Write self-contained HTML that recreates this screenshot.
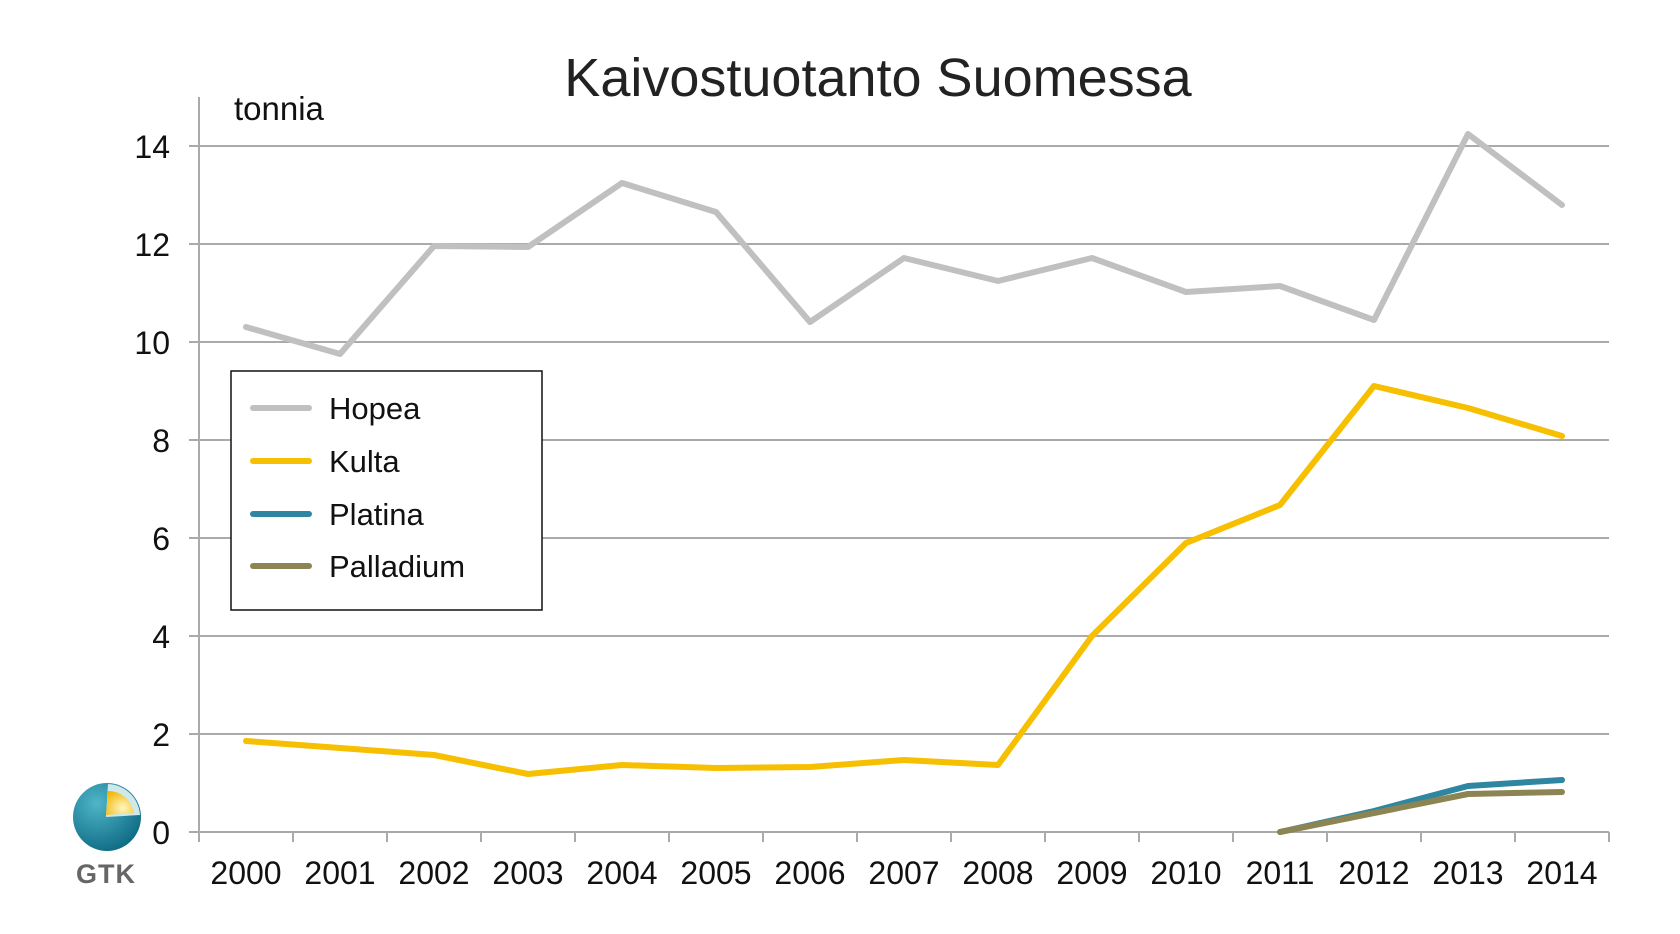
<!DOCTYPE html>
<html><head><style>body{margin:0;background:#fff}</style></head><body>
<svg width="1680" height="929" xmlns="http://www.w3.org/2000/svg" font-family="Liberation Sans, Arial, sans-serif">
<text x="878" y="96" font-size="54" text-anchor="middle" fill="#222">Kaivostuotanto Suomessa</text>
<text x="234" y="120" font-size="33" fill="#111">tonnia</text>
<g stroke="#aaa" stroke-width="2">
<line x1="199" y1="97" x2="199" y2="842"/>
<line x1="189" y1="832" x2="1609" y2="832"/>
<line x1="189" y1="734" x2="1609" y2="734"/>
<line x1="189" y1="636" x2="1609" y2="636"/>
<line x1="189" y1="538" x2="1609" y2="538"/>
<line x1="189" y1="440" x2="1609" y2="440"/>
<line x1="189" y1="342" x2="1609" y2="342"/>
<line x1="189" y1="244" x2="1609" y2="244"/>
<line x1="189" y1="146" x2="1609" y2="146"/>
<path d="M293 832v10M387 832v10M481 832v10M575 832v10M669 832v10M763 832v10M857 832v10M951 832v10M1045 832v10M1139 832v10M1233 832v10M1327 832v10M1421 832v10M1515 832v10M1609 832v10"/>
</g>
<g font-size="32" text-anchor="end" fill="#111">
<text x="170" y="844">0</text><text x="170" y="746">2</text><text x="170" y="648">4</text><text x="170" y="550">6</text><text x="170" y="452">8</text><text x="170" y="354">10</text><text x="170" y="256">12</text><text x="170" y="158">14</text>
</g>
<g font-size="32" text-anchor="middle" fill="#111">
<text x="246" y="884">2000</text><text x="340" y="884">2001</text><text x="434" y="884">2002</text><text x="528" y="884">2003</text><text x="622" y="884">2004</text><text x="716" y="884">2005</text><text x="810" y="884">2006</text><text x="904" y="884">2007</text><text x="998" y="884">2008</text><text x="1092" y="884">2009</text><text x="1186" y="884">2010</text><text x="1280" y="884">2011</text><text x="1374" y="884">2012</text><text x="1468" y="884">2013</text><text x="1562" y="884">2014</text>
</g>
<g fill="none" stroke-width="6" stroke-linejoin="round" stroke-linecap="round">
<polyline stroke="#c0c0c0" points="246,327 340,354 434,246 528,247 622,183 716,212 810,322 904,258 998,281 1092,258 1186,292 1280,286 1374,320 1468,134 1562,205"/>
<polyline stroke="#f6bf00" points="246,741 340,748 434,755 528,774 622,765 716,768 810,767 904,760 998,765 1092,636 1186,543 1280,505 1374,386 1468,408 1562,436"/>
<polyline stroke="#2e86a0" points="1280,832 1374,811 1468,786 1562,780"/>
<polyline stroke="#8c8553" points="1280,832 1374,813 1468,794 1562,792"/>
</g>
<rect x="231" y="371" width="311" height="239" fill="#fff" stroke="#111" stroke-width="1.5"/>
<g stroke-width="6" stroke-linecap="round">
<line x1="253" y1="408" x2="309" y2="408" stroke="#c0c0c0"/>
<line x1="253" y1="461" x2="309" y2="461" stroke="#f6bf00"/>
<line x1="253" y1="514" x2="309" y2="514" stroke="#2e86a0"/>
<line x1="253" y1="566" x2="309" y2="566" stroke="#8c8553"/>
</g>
<g font-size="31" fill="#111">
<text x="329" y="419">Hopea</text><text x="329" y="472">Kulta</text><text x="329" y="525">Platina</text><text x="329" y="577">Palladium</text>
</g>
<defs><radialGradient id="g" cx="0.35" cy="0.3" r="0.8"><stop offset="0" stop-color="#4fb5c8"/><stop offset="1" stop-color="#0a6680"/></radialGradient>
<radialGradient id="y" cx="0.6" cy="0.7" r="0.8"><stop offset="0" stop-color="#fff6c0"/><stop offset="1" stop-color="#f2b400"/></radialGradient></defs>
<circle cx="107" cy="817" r="34" fill="url(#g)"/>
<path d="M106 817 L108 784 A33 33 0 0 1 140 815 Z" fill="#cfe8ec"/>
<path d="M106 815 L108 791 A26 26 0 0 1 134 813 Z" fill="url(#y)"/>
<text x="106" y="883" font-size="27" font-weight="bold" text-anchor="middle" fill="#666" letter-spacing="1">GTK</text>
</svg>
</body></html>
